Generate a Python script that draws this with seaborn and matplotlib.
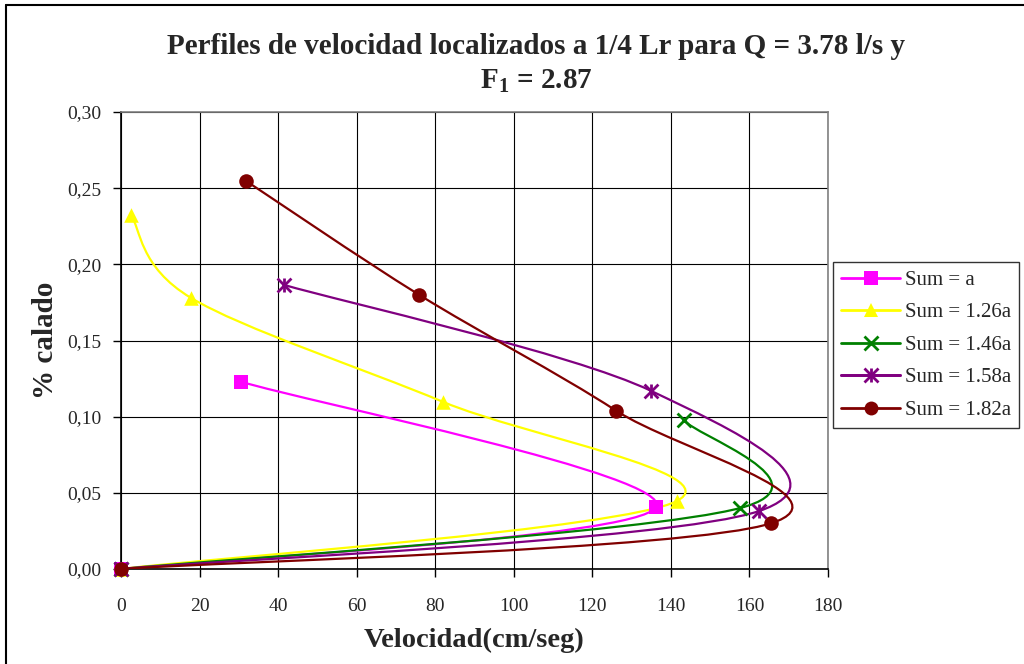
import numpy as np
import matplotlib
matplotlib.use("Agg")
import matplotlib.pyplot as plt
import seaborn as sns
from matplotlib.path import Path
from matplotlib.patches import PathPatch
from matplotlib.lines import Line2D
from matplotlib.legend_handler import HandlerTuple
from matplotlib.ticker import FuncFormatter

# data (velocity cm/s, fraction of depth)
labels = ["Sum = a", "Sum = 1.26a", "Sum = 1.46a", "Sum = 1.58a", "Sum = 1.82a"]
vel_a = [0, 136.2, 30.5]
cal_a = [0, 0.0405, 0.123]
vel_126 = [0, 141.5, 82.0, 17.8, 2.5]
cal_126 = [0, 0.0446, 0.1097, 0.178, 0.2325]
vel_146 = [0, 157.6, 143.3]
cal_146 = [0, 0.040, 0.0978]
vel_158 = [0, 162.4, 134.9, 41.5]
cal_158 = [0, 0.038, 0.117, 0.1865]
vel_182 = [0, 165.5, 126.0, 75.9, 31.8]
cal_182 = [0, 0.030, 0.104, 0.180, 0.2548]

series = [(vel_a, cal_a), (vel_126, cal_126), (vel_146, cal_146),
          (vel_158, cal_158), (vel_182, cal_182)]
colors = ["#FF00FF", "#FFFF00", "#008000", "#800080", "#800000"]
# excel asterisk = x with a vertical bar on top
markers = [["s"], ["^"], ["x"], ["x", "|"], ["o"]]

sns.set_theme(style="white")
plt.rcParams["font.family"] = ["Liberation Serif", "DejaVu Serif"]
plt.rcParams["mathtext.fontset"] = "custom"
plt.rcParams["mathtext.rm"] = "Liberation Serif"
plt.rcParams["mathtext.bf"] = "Liberation Serif:bold"

fig = plt.figure(figsize=(10.24, 6.64), dpi=100)
ax = fig.add_axes([121 / 1024, 1 - 569 / 664, 707 / 1024, 457 / 664])
ax.set_xlim(0, 180)
ax.set_ylim(0, 0.30)

# excel-like smoothed line: bezier through the points, built in pixel-ish space
sx, sy = 707 / 180, 457 / 0.30


def smooth_path(xs, ys):
    p = np.column_stack([np.array(xs) * sx, np.array(ys) * sy])
    n = len(p)
    verts = [p[0]]
    codes = [Path.MOVETO]
    for i in range(n - 1):
        p0 = p[i - 1] if i > 0 else p[i]
        p3 = p[i + 2] if i + 2 < n else p[i + 1]
        c1 = p[i] + (p[i + 1] - p0) / 6
        c2 = p[i + 1] - (p3 - p[i]) / 6
        verts += [c1, c2, p[i + 1]]
        codes += [Path.CURVE4] * 3
    v = np.array(verts)
    v[:, 0] /= sx
    v[:, 1] /= sy
    return Path(v, codes)


for (xs, ys), c in zip(series, colors):
    ax.add_patch(PathPatch(smooth_path(xs, ys), facecolor="none",
                           edgecolor=c, lw=1.6, zorder=3))

filled = {"s", "^", "o"}
for (xs, ys), c, ms in zip(series, colors, markers):
    for m in ms:
        if m in filled:
            sns.scatterplot(x=xs, y=ys, ax=ax, marker=m, s=110, color=c,
                            edgecolor=c, linewidth=0, zorder=4, clip_on=False)
        else:
            sns.scatterplot(x=xs, y=ys, ax=ax, marker=m, s=100, color=c,
                            linewidth=2, zorder=4, clip_on=False)

ax.set_xticks(np.arange(0, 181, 20))
ax.set_yticks(np.arange(0, 0.301, 0.05))
ax.yaxis.set_major_formatter(FuncFormatter(lambda v, p: f"{v:.2f}".replace(".", ",")))
ax.grid(True, color="black", lw=0.8)
ax.set_axisbelow(True)
ax.tick_params(axis="both", direction="out", length=6, width=1, color="black",
               labelsize=14, left=True, bottom=True)
ax.tick_params(axis="x", pad=15)
ax.tick_params(axis="y", pad=8)
for side, sp in ax.spines.items():
    sp.set_color("black" if side in ("left", "bottom") else "#808080")
    sp.set_linewidth(1.2)

ax.set_xlabel("Velocidad(cm/seg)", fontsize=20.5, fontweight="bold", labelpad=9)
ax.set_ylabel("% calado", fontsize=21, fontweight="bold", labelpad=6)

fig.text(536 / 1024, 1 - 46 / 664,
         "Perfiles de velocidad localizados a 1/4 Lr para Q = 3.78 l/s y",
         ha="center", va="center", fontsize=21, fontweight="bold")
fig.text(536 / 1024, 1 - 81 / 664, r"F$_{\mathbf{1}}$ = 2.87",
         ha="center", va="center", fontsize=21, fontweight="bold")

handles = []
for c, ms in zip(colors, markers):
    parts = []
    for m in ms:
        f = m in filled
        parts.append(Line2D([], [], color=c, lw=2, marker=m, markersize=10,
                            markeredgewidth=0 if f else 2,
                            markerfacecolor=c, markeredgecolor=c))
    handles.append(tuple(parts))
leg = fig.legend(handles, labels, loc="upper left",
                 bbox_to_anchor=(833 / 1024, 1 - 262 / 664),
                 handler_map={tuple: HandlerTuple(ndivide=1, pad=0)},
                 fontsize=15, frameon=True, fancybox=False, handlelength=2.8,
                 handletextpad=0.25, borderpad=0.4, labelspacing=0.62,
                 borderaxespad=0)
leg.get_frame().set_edgecolor("black")
leg.get_frame().set_linewidth(1)

# outer chart frame (left and top edges visible)
fig.add_artist(Line2D([6 / 1024, 6 / 1024], [0, 1 - 5 / 664], color="black",
                      lw=1.5, transform=fig.transFigure))
fig.add_artist(Line2D([6 / 1024, 1], [1 - 5 / 664, 1 - 5 / 664], color="black",
                      lw=1.5, transform=fig.transFigure))

fig.savefig("out.png", dpi=100)
